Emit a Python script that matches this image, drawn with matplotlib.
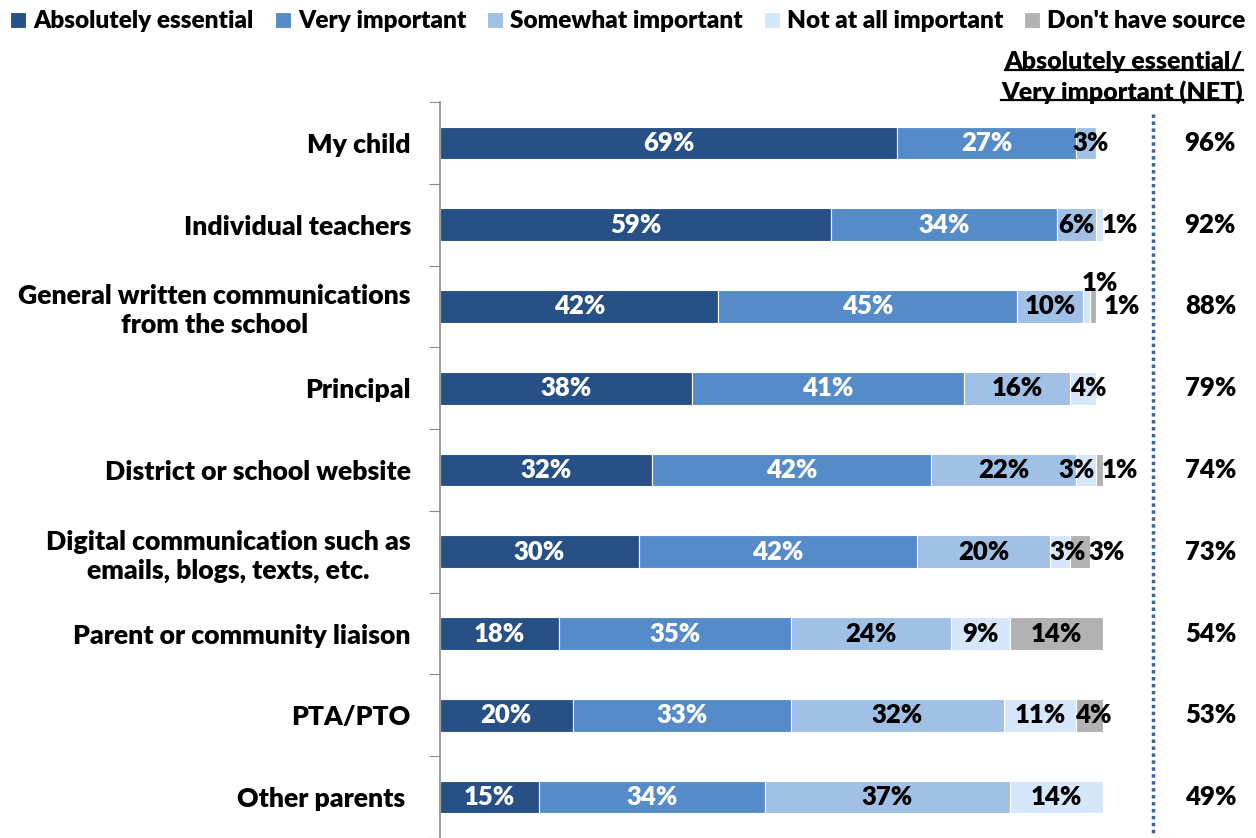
import matplotlib.pyplot as plt
import numpy as np
from matplotlib.lines import Line2D

plt.rcParams['font.family'] = ['Lato', 'DejaVu Sans']
plt.rcParams['font.weight'] = 'heavy'

sources = ['My child', 'Individual teachers', 'General written communications\nfrom the school',
           'Principal', 'District or school website',
           'Digital communication such as\nemails, blogs, texts, etc.',
           'Parent or community liaison', 'PTA/PTO', 'Other parents ']
series = ['Absolutely essential', 'Very important', 'Somewhat important',
          'Not at all important', "Don't have source"]
essential = [69, 59, 42, 38, 32, 30, 18, 20, 15]
very = [27, 34, 45, 41, 42, 42, 35, 33, 34]
somewhat = [3, 6, 10, 16, 22, 20, 24, 32, 37]
not_at_all = [0, 1, 1, 4, 3, 3, 9, 11, 14]
dont_have = [0, 0, 1, 0, 1, 3, 14, 4, 0]
net = [96, 92, 88, 79, 74, 73, 54, 53, 49]

colors = ['#275087', '#568bc9', '#a1c0e5', '#d6e6fb', '#b2b2b2']
text_colors = ['white', 'white', 'black', 'black', 'black']
# labels of thin segments that are nudged off centre: (row, series) -> (x, y offset)
nudged = {(0, 2): (98.2, 0), (1, 3): (102.6, 0), (2, 3): (99.6, -0.29), (2, 4): (102.9, 0),
          (3, 3): (97.8, 0), (4, 3): (96.0, 0), (4, 4): (102.6, 0),
          (5, 3): (94.6, 0), (5, 4): (100.6, 0), (7, 4): (98.6, 0)}
label_size = 18.5

fig = plt.figure(figsize=(12.56, 8.38), dpi=100)
ax = fig.add_axes([440 / 1256, 0, 663 / 1256, 1 - 102 / 838])

y = np.arange(len(sources))
left = np.zeros(len(sources))
for k, vals in enumerate([essential, very, somewhat, not_at_all, dont_have]):
    vals = np.array(vals, dtype=float)
    ax.barh(y, vals, left=left, height=0.4, color=colors[k], edgecolor='white',
            linewidth=0.8, label=series[k])
    for i, v in enumerate(vals):
        if v <= 0:
            continue
        if (i, k) in nudged:
            xx, dy = nudged[(i, k)]
            ax.text(xx, y[i] + dy, f'{v:.0f}%', ha='center', va='center', fontsize=label_size,
                    color='black', clip_on=False)
        else:
            ax.text(left[i] + v / 2, y[i], f'{v:.0f}%', ha='center', va='center',
                    fontsize=label_size, color=text_colors[k])
    left += vals

ax.set_xlim(0, 100)
ax.set_ylim(len(sources) - 0.5, -0.5)
ax.set_xticks([])
ax.set_yticks(np.arange(len(sources) + 1) - 0.5)
ax.set_yticklabels([])
ax.set_yticks(y, minor=True)
ax.set_yticklabels(sources, minor=True, fontsize=19.2, multialignment='center',
                   linespacing=1.25)
ax.tick_params(axis='y', which='major', length=8, color='#8c8c8c', direction='out')
ax.tick_params(axis='y', which='minor', length=0, pad=21)
for s in ['top', 'right', 'bottom']:
    ax.spines[s].set_visible(False)
ax.spines['left'].set_color('#8c8c8c')
ax.spines['left'].set_linewidth(1.2)

# NET column with dotted divider
ax.plot([107.6, 107.6], [-0.35, 8.45], ls=(0, (1, 1.0)), lw=2.5, color='#3b62a0',
        clip_on=False)
for i, v in enumerate(net):
    ax.text(116.2, y[i], f'{v}%', ha='center', va='center', fontsize=label_size,
            clip_on=False)

hdr1 = fig.text(1243 / 1256, 1 - 62 / 838, 'Absolutely essential/', ha='right', va='center',
                fontsize=18)
hdr2 = fig.text(1243 / 1256, 1 - 92 / 838, 'Very important (NET)', ha='right', va='center',
                fontsize=18)
renderer = fig.canvas.get_renderer()
for t in [hdr1, hdr2]:
    bb = t.get_window_extent(renderer).transformed(fig.transFigure.inverted())
    fig.add_artist(Line2D([bb.x0, bb.x1], [bb.y0 + 0.004, bb.y0 + 0.004], color='black',
                          lw=1.6, transform=fig.transFigure))

fig.legend(loc='upper center', bbox_to_anchor=(0.5, 1.005), ncol=5, frameon=False,
           fontsize=17.6, handlelength=0.65, handleheight=0.65, handletextpad=0.3,
           columnspacing=0.85, borderaxespad=0.2)

fig.savefig('out.png', dpi=100)
